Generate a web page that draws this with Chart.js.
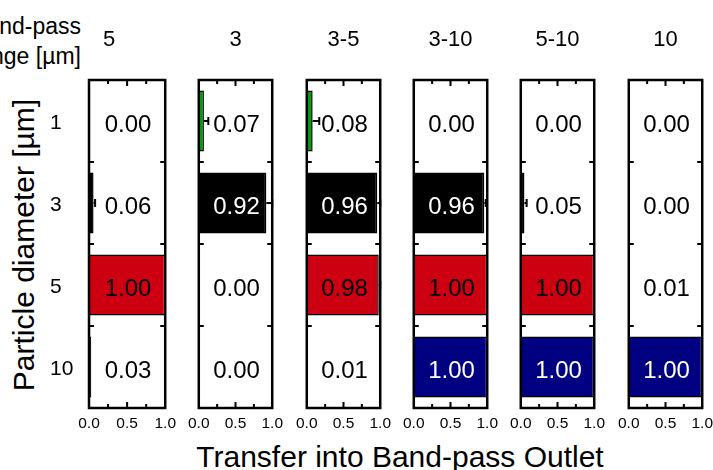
<!DOCTYPE html>
<html>
<head>
<meta charset="utf-8">
<script src="https://cdn.jsdelivr.net/npm/chart.js@4.4.1/dist/chart.umd.min.js"></script>
<style>
body { margin: 0; background: #fff; }
#wrap { position: relative; width: 713px; height: 470px; overflow: hidden; background: #fff;
        font-family: "Liberation Sans", Arial, sans-serif; color: #000; }
.panel { position: absolute; top: 0; }
.lbl { position: absolute; white-space: nowrap; }
#rangeLbl { right: 632px; top: 11px; text-align: right; font-size: 23px; line-height: 30px; }
#xtitle { left: 400px; top: 442px; font-size: 30px; line-height: 30px; transform: translateX(-50%); }
#ytitle { left: 24px; top: 245px; font-size: 30px; line-height: 30px; transform: translate(-50%, -50%) rotate(-90deg); }
</style>
</head>
<body>
<div id="wrap">
  <div class="lbl" id="rangeLbl">Band-pass<br>range [µm]</div>
  <div class="lbl" id="ytitle">Particle diameter [µm]</div>
  <div class="lbl" id="xtitle">Transfer into Band-pass Outlet</div>
</div>
<script>
// band-pass ranges (one panel each) and particle sizes
var panelTitles = ["5", "3", "3-5", "3-10", "5-10", "10"];
var particleSizes = ["1", "3", "5", "10"];
var xTicks = [0, 0.5, 1];

// transfer fraction per panel, in the order of particleSizes
var transfer5   = [0.00, 0.06, 1.00, 0.03];
var transfer3   = [0.07, 0.92, 0.00, 0.00];
var transfer3_5 = [0.08, 0.96, 0.98, 0.01];
var transfer3_10 = [0.004, 0.96, 1.00, 1.00];
var transfer5_10 = [0.00, 0.05, 1.00, 1.00];
var transfer10  = [0.00, 0.00, 0.01, 1.00];

// error (upper whisker) per panel
var err5   = [0, 0.02, 0, 0];
var err3   = [0.06, 0.08, 0, 0];
var err3_5 = [0.09, 0.04, 0.02, 0];
var err3_10 = [0, 0.02, 0, 0];
var err5_10 = [0, 0.03, 0, 0];
var err10  = [0, 0, 0, 0];

var allValues = [transfer5, transfer3, transfer3_5, transfer3_10, transfer5_10, transfer10];
var allErrors = [err5, err3, err3_5, err3_10, err5_10, err10];

var barColors = ["#0c990c", "#000000", "#cc0011", "#000080"];
var textOnBar = ["#000", "#fff", "#000", "#fff"];

var fontFam = '"Liberation Sans", Arial, sans-serif';
Chart.defaults.font.family = fontFam;
Chart.defaults.color = "#000";
var panelLefts = [89, 196, 304, 411, 518, 626];
var plotW = 79;

var framePlugin = {
  id: "frame",
  afterDatasetsDraw: function (chart) {
    var ctx = chart.ctx, a = chart.chartArea, x = chart.scales.x, y = chart.scales.y;
    var vals = chart.data.datasets[0].data;
    var errs = chart.options.plugins.frame.errors;
    ctx.save();
    ctx.strokeStyle = "#000";
    ctx.lineWidth = 2;
    // error whiskers
    ctx.beginPath();
    vals.forEach(function (v, i) {
      if (!errs[i]) return;
      var py = y.getPixelForValue(i);
      var x0 = x.getPixelForValue(v), x1 = x.getPixelForValue(Math.min(v + errs[i], 1));
      ctx.moveTo(x0, py); ctx.lineTo(x1, py);
      ctx.moveTo(x1, py - 4); ctx.lineTo(x1, py + 4);
    });
    ctx.stroke();
    // frame + inward ticks
    ctx.lineWidth = 2.5;
    ctx.strokeRect(a.left, a.top, a.right - a.left, a.bottom - a.top);
    ctx.lineWidth = 2;
    ctx.beginPath();
    [0.25, 0.5, 0.75].forEach(function (v) {
      var px = x.getPixelForValue(v);
      var len = v === 0.5 ? 6 : 4;
      ctx.moveTo(px, a.top); ctx.lineTo(px, a.top + len);
      ctx.moveTo(px, a.bottom); ctx.lineTo(px, a.bottom - len);
    });
    for (var i = 1; i < vals.length; i++) {
      var py = (y.getPixelForValue(i - 1) + y.getPixelForValue(i)) / 2;
      ctx.moveTo(a.left, py); ctx.lineTo(a.left + 5, py);
      ctx.moveTo(a.right, py); ctx.lineTo(a.right - 5, py);
    }
    ctx.stroke();
    // value labels
    ctx.font = "24px " + fontFam;
    ctx.textAlign = "center";
    ctx.textBaseline = "middle";
    vals.forEach(function (v, i) {
      ctx.fillStyle = v > 0.5 ? textOnBar[i] : "#000";
      ctx.fillText(v.toFixed(2), x.getPixelForValue(0.5) + 1, y.getPixelForValue(i) + 4);
    });
    ctx.restore();
  }
};

var wrap = document.getElementById("wrap");
panelTitles.forEach(function (title, p) {
  var first = p === 0;
  var padL = first ? 0 : 14, yW = first ? 39 : 0, padR = 14;
  var left = panelLefts[p] - yW - padL;
  var w = yW + padL + plotW + padR;
  var cv = document.createElement("canvas");
  cv.className = "panel";
  cv.width = w; cv.height = 440;
  cv.style.left = left + "px";
  cv.style.width = w + "px"; cv.style.height = "440px";
  wrap.appendChild(cv);

  new Chart(cv, {
    type: "bar",
    data: {
      labels: particleSizes,
      datasets: [{
        data: allValues[p],
        backgroundColor: barColors,
        borderColor: "#000",
        borderWidth: 1.5,
        categoryPercentage: 1,
        barPercentage: 0.745
      }]
    },
    options: {
      indexAxis: "y",
      responsive: false,
      animation: false,
      layout: { padding: { left: padL, right: padR, top: 0, bottom: 0 } },
      plugins: {
        legend: { display: false },
        tooltip: { enabled: false },
        frame: { errors: allErrors[p] },
        title: {
          display: true,
          text: title,
          color: "#000",
          font: { size: 22, family: fontFam, weight: "normal" },
          padding: { top: 27, bottom: 26.6 }
        }
      },
      scales: {
        x: {
          min: 0, max: 1,
          grid: { display: false, drawTicks: false },
          border: { display: false },
          afterBuildTicks: function (s) { s.ticks = xTicks.map(function (v) { return { value: v }; }); },
          ticks: {
            padding: 6, color: "#000", maxRotation: 0, autoSkip: false,
            font: { size: 15.5, family: fontFam },
            callback: function (v) { return Number(v).toFixed(1); }
          },
          afterFit: function (s) { s.height = 32; }
        },
        y: {
          display: first,
          grid: { display: false, drawTicks: false },
          border: { display: false },
          ticks: { crossAlign: "far", padding: 0, labelOffset: 2, color: "#000", font: { size: 21, family: fontFam } },
          afterFit: function (s) { s.width = yW; }
        }
      }
    },
    plugins: [framePlugin]
  });
});
</script>
</body>
</html>
